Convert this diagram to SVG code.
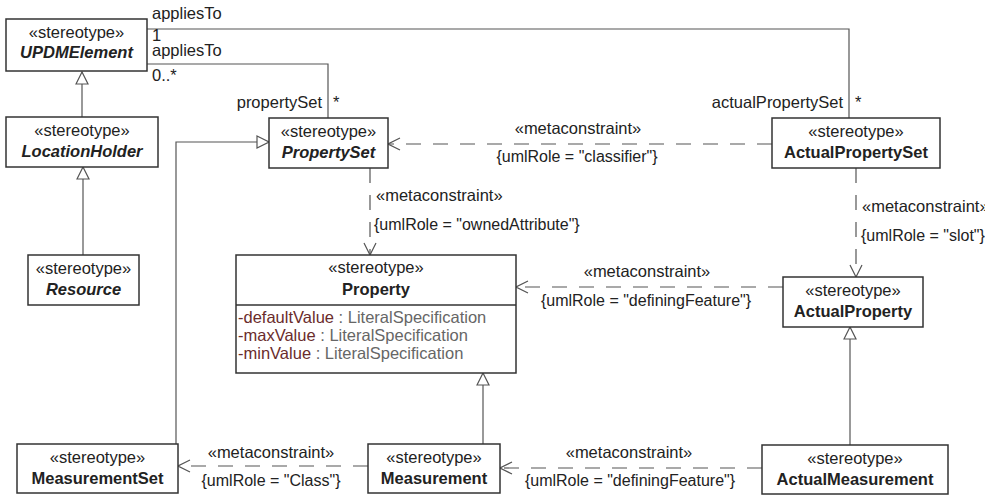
<svg xmlns="http://www.w3.org/2000/svg" width="985" height="496" viewBox="0 0 985 496">
<defs>
<style>
.box{fill:#fff;stroke:#333;stroke-width:1.5}
.ln{fill:none;stroke:#555;stroke-width:1.2}
.dash{fill:none;stroke:#555;stroke-width:1.2;stroke-dasharray:15,12}
text{font-family:"Liberation Sans",Arial,sans-serif;fill:#222}
.st{font-size:16.5px;text-anchor:middle}
.nm{font-size:16.5px;font-weight:bold;text-anchor:middle}
.ab{font-style:italic}
.lb{font-size:16.5px}
.cs{font-size:16px}
.mid{text-anchor:middle}
.end{text-anchor:end}
.an{fill:#6a2c2c}
.at{fill:#666}
</style>
<marker id="open" markerUnits="userSpaceOnUse" markerWidth="14" markerHeight="14" viewBox="0 0 14 14" refX="13" refY="7" orient="auto">
<path d="M1,1 L13,7 L1,13" fill="none" stroke="#555" stroke-width="1.2" stroke-dasharray="none"/>
</marker>
<marker id="gen" markerUnits="userSpaceOnUse" markerWidth="14" markerHeight="14" viewBox="0 0 14 14" refX="13" refY="7" orient="auto">
<path d="M1,1 L13,7 L1,13 Z" fill="#fff" stroke="#555" stroke-width="1.2"/>
</marker>
</defs>

<g id="connectors">
<polyline class="ln" points="147,29 849,29 849,118"/>
<polyline class="ln" points="147,64 328,64 328,118"/>
<line class="ln" x1="82" y1="117" x2="82" y2="72" marker-end="url(#gen)"/>
<line class="ln" x1="83" y1="255" x2="83" y2="167" marker-end="url(#gen)"/>
<polyline class="ln" points="176,444 176,142 269,142" marker-end="url(#gen)"/>
<line class="ln" x1="483" y1="444" x2="483" y2="373" marker-end="url(#gen)"/>
<line class="ln" x1="850" y1="445" x2="850" y2="327" marker-end="url(#gen)"/>
<line class="dash" x1="772" y1="144" x2="388" y2="144" marker-end="url(#open)"/>
<line class="dash" x1="370" y1="168" x2="370" y2="255" marker-end="url(#open)"/>
<line class="dash" x1="856" y1="168" x2="856" y2="277" marker-end="url(#open)"/>
<line class="dash" x1="783" y1="287" x2="516" y2="287" marker-end="url(#open)"/>
<line class="dash" x1="368" y1="466" x2="178" y2="466" marker-end="url(#open)"/>
<line class="dash" x1="762" y1="468" x2="500" y2="468" marker-end="url(#open)"/>
<text class="lb" x="152" y="19">appliesTo</text>
<text class="lb" x="152" y="41">1</text>
<text class="lb" x="152" y="56">appliesTo</text>
<text class="lb" x="152" y="81">0..*</text>
<text class="lb end" x="322" y="108">propertySet</text>
<text class="lb" x="333" y="108">*</text>
<text class="lb end" x="843" y="108">actualPropertySet</text>
<text class="lb" x="855" y="108">*</text>
<text class="lb mid" x="578" y="134">«metaconstraint»</text>
<text class="cs mid" x="577" y="162">{umlRole = "classifier"}</text>
<text class="lb" x="376" y="201">«metaconstraint»</text>
<text class="cs" x="374" y="230">{umlRole = "ownedAttribute"}</text>
<text class="lb" x="862" y="212">«metaconstraint»</text>
<text class="cs" x="861" y="241">{umlRole = "slot"}</text>
<text class="lb mid" x="647" y="277">«metaconstraint»</text>
<text class="cs mid" x="646" y="306">{umlRole = "definingFeature"}</text>
<text class="lb mid" x="271" y="458">«metaconstraint»</text>
<text class="cs mid" x="271" y="486">{umlRole = "Class"}</text>
<text class="lb mid" x="629" y="458">«metaconstraint»</text>
<text class="cs mid" x="630" y="486">{umlRole = "definingFeature"}</text>
</g>

<g id="UPDMElement">
<rect class="box" x="6" y="19" width="141" height="52"/>
<text class="st" x="76.5" y="38">«stereotype»</text>
<text class="nm ab" x="76.5" y="58">UPDMElement</text>
</g>

<g id="LocationHolder">
<rect class="box" x="6" y="117" width="152" height="50"/>
<text class="st" x="82" y="136">«stereotype»</text>
<text class="nm ab" x="82" y="157">LocationHolder</text>
</g>

<g id="Resource">
<rect class="box" x="28" y="255" width="111" height="50"/>
<text class="st" x="83.5" y="274">«stereotype»</text>
<text class="nm ab" x="83.5" y="295">Resource</text>
</g>

<g id="PropertySet">
<rect class="box" x="269" y="118" width="119" height="50"/>
<text class="st" x="328.5" y="137">«stereotype»</text>
<text class="nm ab" x="328.5" y="158">PropertySet</text>
</g>

<g id="ActualPropertySet">
<rect class="box" x="772" y="118" width="168" height="50"/>
<text class="st" x="856" y="137">«stereotype»</text>
<text class="nm" x="856" y="158">ActualPropertySet</text>
</g>

<g id="Property">
<rect class="box" x="236" y="255" width="280" height="118"/>
<line x1="236" y1="305" x2="516" y2="305" stroke="#333" stroke-width="1.5"/>
<text class="st" x="376" y="273">«stereotype»</text>
<text class="nm" x="376" y="295">Property</text>
<text class="lb" x="238" y="323"><tspan class="an">-defaultValue</tspan><tspan class="at"> : LiteralSpecification</tspan></text>
<text class="lb" x="238" y="341"><tspan class="an">-maxValue</tspan><tspan class="at"> : LiteralSpecification</tspan></text>
<text class="lb" x="238" y="359"><tspan class="an">-minValue</tspan><tspan class="at"> : LiteralSpecification</tspan></text>
</g>

<g id="ActualProperty">
<rect class="box" x="783" y="277" width="140" height="50"/>
<text class="st" x="853" y="296">«stereotype»</text>
<text class="nm" x="853" y="317">ActualProperty</text>
</g>

<g id="MeasurementSet">
<rect class="box" x="17" y="444" width="161" height="49"/>
<text class="st" x="97.5" y="463">«stereotype»</text>
<text class="nm" x="97.5" y="484">MeasurementSet</text>
</g>

<g id="Measurement">
<rect class="box" x="368" y="444" width="132" height="49"/>
<text class="st" x="434" y="463">«stereotype»</text>
<text class="nm" x="434" y="484">Measurement</text>
</g>

<g id="ActualMeasurement">
<rect class="box" x="762" y="445" width="186" height="49"/>
<text class="st" x="855" y="464">«stereotype»</text>
<text class="nm" x="855" y="485">ActualMeasurement</text>
</g>
</svg>
